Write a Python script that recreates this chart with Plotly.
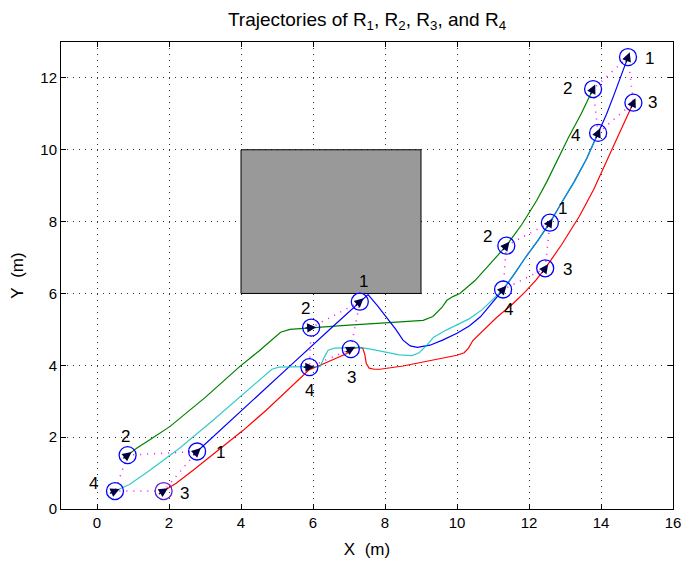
import numpy as np
import plotly.graph_objects as go

# ---------------- data ----------------
title_text = "Trajectories of R<sub>1</sub>, R<sub>2</sub>, R<sub>3</sub>, and R<sub>4</sub>"
x_label = "X\u00a0\u00a0(m)"
y_label = "Y\u00a0\u00a0(m)"
x_ticks = [0, 2, 4, 6, 8, 10, 12, 14, 16]
y_ticks = [0, 2, 4, 6, 8, 10, 12]

obstacle_x = [4, 9]
obstacle_y = [6, 10]

# robot 1 (blue)
r1_x = [2.78, 3.5, 4.5, 5.5, 6.5, 7.3, 7.53, 7.8, 8.05, 8.3, 8.5, 8.7, 8.9, 9.25, 9.6, 10.0,
        10.35, 10.65, 10.9, 11.1, 11.28, 11.6, 11.9, 12.25, 12.58, 12.95, 13.25, 13.6, 13.92,
        14.15, 14.35, 14.55, 14.75]
r1_y = [1.6, 2.27, 3.19, 4.11, 5.03, 5.77, 5.97, 5.65, 5.34, 5.0, 4.7, 4.54, 4.5, 4.56, 4.7, 4.89,
        5.1, 5.35, 5.65, 5.9, 6.11, 6.55, 7.0, 7.48, 7.97, 8.6, 9.1, 9.75, 10.47,
        10.98, 11.5, 12.03, 12.58]
# robot 2 (green)
r2_x = [0.85, 1.1, 1.5, 2.03, 3.0, 3.97, 4.5, 4.86, 5.1, 5.36, 5.95, 7.0, 8.0, 9.06, 9.33, 9.58,
        9.72, 9.9, 10.08, 10.5, 10.9, 11.37, 11.8, 12.21, 12.5, 12.78, 13.1, 13.45, 13.78]
r2_y = [1.5, 1.69, 1.95, 2.3, 3.1, 3.97, 4.4, 4.72, 4.92, 5.0, 5.05, 5.12, 5.18, 5.25, 5.36, 5.61,
        5.81, 5.92, 6.0, 6.36, 6.8, 7.33, 7.92, 8.58, 9.12, 9.69, 10.35, 11.0, 11.69]
# robot 3 (red)
r3_x = [1.85, 2.2, 2.67, 3.3, 4.06, 4.7, 5.36, 5.9, 6.2, 6.6, 6.94, 7.05, 7.25, 7.38, 7.44, 7.48,
        7.56, 7.7, 7.86, 8.5, 9.17, 9.7, 10.0, 10.2, 10.32, 10.44, 10.7, 11.1, 11.56, 11.9, 12.2,
        12.45, 12.9, 13.4, 13.8, 14.17, 14.5, 14.9]
r3_y = [0.5, 0.72, 1.08, 1.58, 2.19, 2.75, 3.36, 3.88, 4.0, 4.18, 4.33, 4.45, 4.5, 4.48, 4.3, 4.05,
        3.92, 3.89, 3.89, 3.98, 4.12, 4.22, 4.28, 4.35, 4.48, 4.69, 4.95, 5.33, 5.72, 6.05, 6.38,
        6.7, 7.35, 8.15, 8.9, 9.69, 10.44, 11.31]
# robot 4 (cyan)
r4_x = [0.5, 0.9, 1.47, 2.3, 3.2, 4.0, 4.6, 4.86, 5.05, 5.5, 5.9, 6.2, 6.3, 6.42, 6.6, 7.0, 7.3,
        7.6, 8.0, 8.4, 8.75, 8.95, 9.15, 9.35, 9.7, 10.0, 10.35, 10.7, 11.0, 11.28, 11.6, 11.9,
        12.25, 12.58, 12.95, 13.25, 13.6, 13.92]
r4_y = [0.5, 0.68, 1.08, 1.7, 2.45, 3.15, 3.68, 3.89, 3.95, 3.95, 3.95, 3.97, 4.2, 4.42, 4.48, 4.5,
        4.5, 4.45, 4.36, 4.29, 4.27, 4.35, 4.55, 4.78, 4.98, 5.12, 5.3, 5.55, 5.85, 6.11, 6.55, 7.0,
        7.48, 7.97, 8.6, 9.1, 9.75, 10.47]

# snapshot positions (4 instants)
s1_x = [2.78, 7.3, 12.58, 14.75]
s1_y = [1.6, 5.77, 7.97, 12.58]
s2_x = [0.85, 5.95, 11.37, 13.78]
s2_y = [1.5, 5.05, 7.33, 11.69]
s3_x = [1.85, 7.05, 12.45, 14.9]
s3_y = [0.5, 4.45, 6.7, 11.31]
s4_x = [0.5, 5.9, 11.28, 13.92]
s4_y = [0.5, 3.95, 6.11, 10.47]

robot_names = ["1", "2", "3", "4"]

# ---------------- styling ----------------
colors = ["#0000ff", "#008000", "#ff0000", "#00bfbf"]
trajs = [(r1_x, r1_y), (r2_x, r2_y), (r3_x, r3_y), (r4_x, r4_y)]
snaps = [(s1_x, s1_y), (s2_x, s2_y), (s3_x, s3_y), (s4_x, s4_y)]
# label offsets per robot, per snapshot (dx, dy) in data units
label_off = [
    [(0.64, -0.02), (0.09, 0.56), (0.36, 0.39), (0.61, -0.05)],
    [(-0.05, 0.53), (-0.15, 0.53), (-0.51, 0.25), (-0.72, 0.02)],
    [(0.57, -0.08), (0.01, -0.78), (0.61, -0.03), (0.52, 0.0)],
    [(-0.6, 0.22), (-0.01, -0.65), (0.14, -0.55), (-0.64, -0.08)],
]

FONT = "Liberation Sans, Arial, Helvetica, sans-serif"

fig = go.Figure()

# formation (magenta dotted) polygons: 1-2-4-3-1
order = [0, 1, 3, 2, 0]
for k in range(4):
    fx = [snaps[i][0][k] for i in order]
    fy = [snaps[i][1][k] for i in order]
    fig.add_trace(go.Scatter(x=fx, y=fy, mode="lines", hoverinfo="skip",
                             line=dict(color="#ff00ff", width=1.5, dash="1px,6px"),
                             showlegend=False))

# trajectories
for i in [1, 2, 0, 3]:
    tx, ty = trajs[i]
    fig.add_trace(go.Scatter(x=tx, y=ty, mode="lines", hoverinfo="skip",
                             line=dict(color=colors[i], width=1.2),
                             opacity=0.8 if i == 3 else 1.0,
                             showlegend=False))

# circles at snapshots
for i in range(4):
    sx, sy = snaps[i]
    ccol = ["#0000ff"] * 4
    if i == 2:
        ccol[0] = "#5a1fc8"
    fig.add_trace(go.Scatter(x=sx, y=sy, mode="markers", hoverinfo="skip",
                             marker=dict(symbol="circle-open", size=17,
                                         line=dict(color=ccol, width=1.3), color=ccol),
                             showlegend=False))

annotations = []
# heading arrows computed from trajectory direction
for i in range(4):
    tx = np.array(trajs[i][0]); ty = np.array(trajs[i][1])
    sx, sy = snaps[i]
    for k in range(4):
        d = np.hypot(tx - sx[k], ty - sy[k])
        j = int(np.argmin(d))
        j0 = max(j - 1, 0); j1 = min(j + 1, len(tx) - 1)
        vx = tx[j1] - tx[j0]; vy = ty[j1] - ty[j0]
        n = np.hypot(vx, vy)
        vx, vy = vx / n, vy / n
        tail = 0.2; head = 0.14
        annotations.append(dict(
            x=sx[k] + head * vx, y=sy[k] + head * vy,
            ax=sx[k] - tail * vx, ay=sy[k] - tail * vy,
            xref="x", yref="y", axref="x", ayref="y",
            text="", showarrow=True, arrowhead=2, arrowsize=1.3, arrowwidth=1.4,
            arrowcolor="#000040"))
        ox, oy = label_off[i][k]
        annotations.append(dict(
            x=sx[k] + ox, y=sy[k] + oy, xref="x", yref="y", text=robot_names[i],
            showarrow=False, font=dict(family=FONT, size=17, color="black")))

fig.add_shape(type="rect", xref="x", yref="y",
              x0=obstacle_x[0], x1=obstacle_x[1], y0=obstacle_y[0], y1=obstacle_y[1],
              fillcolor="#999999", line=dict(color="black", width=1), layer="between")

axis_common = dict(showline=True, linecolor="black", linewidth=1, mirror="ticks",
                   ticks="inside", ticklen=5, tickcolor="black", automargin=False,
                   showgrid=True, gridcolor="#333333", gridwidth=1, griddash="1px,5px",
                   zeroline=False, tickfont=dict(family=FONT, size=15, color="black"))

W, H = 683, 561
fig.update_layout(
    width=W, height=H,
    margin=dict(l=61, r=10, t=42, b=52),
    paper_bgcolor="white", plot_bgcolor="white",
    title=dict(text=title_text, x=0.5, xref="paper", y=(H - 19) / H, yref="container",
               yanchor="middle", font=dict(family=FONT, size=19, color="black")),
    xaxis=dict(range=[-1, 16], tickvals=x_ticks,
               title=dict(text=x_label, standoff=13, font=dict(family=FONT, size=17, color="black")),
               **axis_common),
    yaxis=dict(range=[0, 13], tickvals=y_ticks,
               title=dict(text=y_label, standoff=12, font=dict(family=FONT, size=17, color="black")),
               **axis_common),
    annotations=annotations,
    showlegend=False,
)

fig.write_html("out.html", config={"displayModeBar": False},
               post_script="document.body.style.margin='0';document.body.style.overflow='hidden';")
